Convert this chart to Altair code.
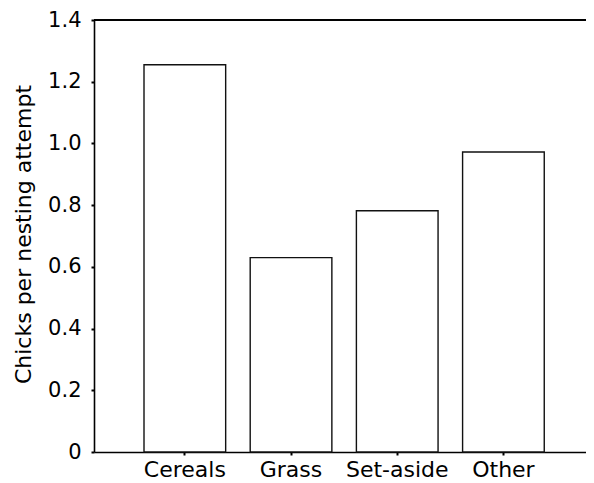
import altair as alt
import pandas as pd

categories = ["Cereals", "Grass", "Set-aside", "Other"]
values = [1.255, 0.630, 0.782, 0.972]
y_ticks = [0, 0.2, 0.4, 0.6, 0.8, 1.0, 1.2, 1.4]

df = pd.DataFrame({"habitat": categories, "chicks": values})

FONT = "DejaVu Sans"
W, H = 492, 432

bars = alt.Chart(df).mark_bar(
    fill="white", stroke="#111111", strokeWidth=1.4
).encode(
    x=alt.X(
        "habitat:N", sort=categories, title=None,
        scale=alt.Scale(paddingInner=0.231, paddingOuter=0.432, align=0.545),
        axis=alt.Axis(
            labelAngle=0, labelFontSize=22, labelFont=FONT, labelColor="black",
            labelPadding=4, tickSize=3, tickWidth=2, tickColor="black",
            domainColor="black", domainWidth=1.6,
        ),
    ),
    y=alt.Y(
        "chicks:Q", title="Chicks per nesting attempt",
        scale=alt.Scale(domain=[0, 1.4], nice=False, zero=True),
        axis=alt.Axis(
            values=y_ticks, grid=False,
            labelExpr="datum.value == 0 ? '0' : format(datum.value, '.1f')",
            labelFontSize=21, labelFont=FONT, labelColor="black", labelPadding=10,
            tickSize=3, tickWidth=2, tickColor="black",
            domainColor="black", domainWidth=1.6,
            titleFont=FONT, titleFontSize=22, titleFontWeight="normal",
            titleColor="black", titleX=-59, titleY=214,
        ),
    ),
)

top_line = alt.Chart(df).mark_rule(color="black", strokeWidth=1.6).encode(
    x=alt.value(0), x2=alt.value(W), y=alt.value(0)
)

chart = alt.layer(bars, top_line).properties(
    width=W, height=H,
    autosize=alt.AutoSizeParams(type="none"),
    padding={"left": 86, "top": 12, "right": 0, "bottom": 30},
    background="white",
).configure_view(strokeWidth=0)

chart.save("out.html", embed_options={"renderer": "svg", "actions": False})
